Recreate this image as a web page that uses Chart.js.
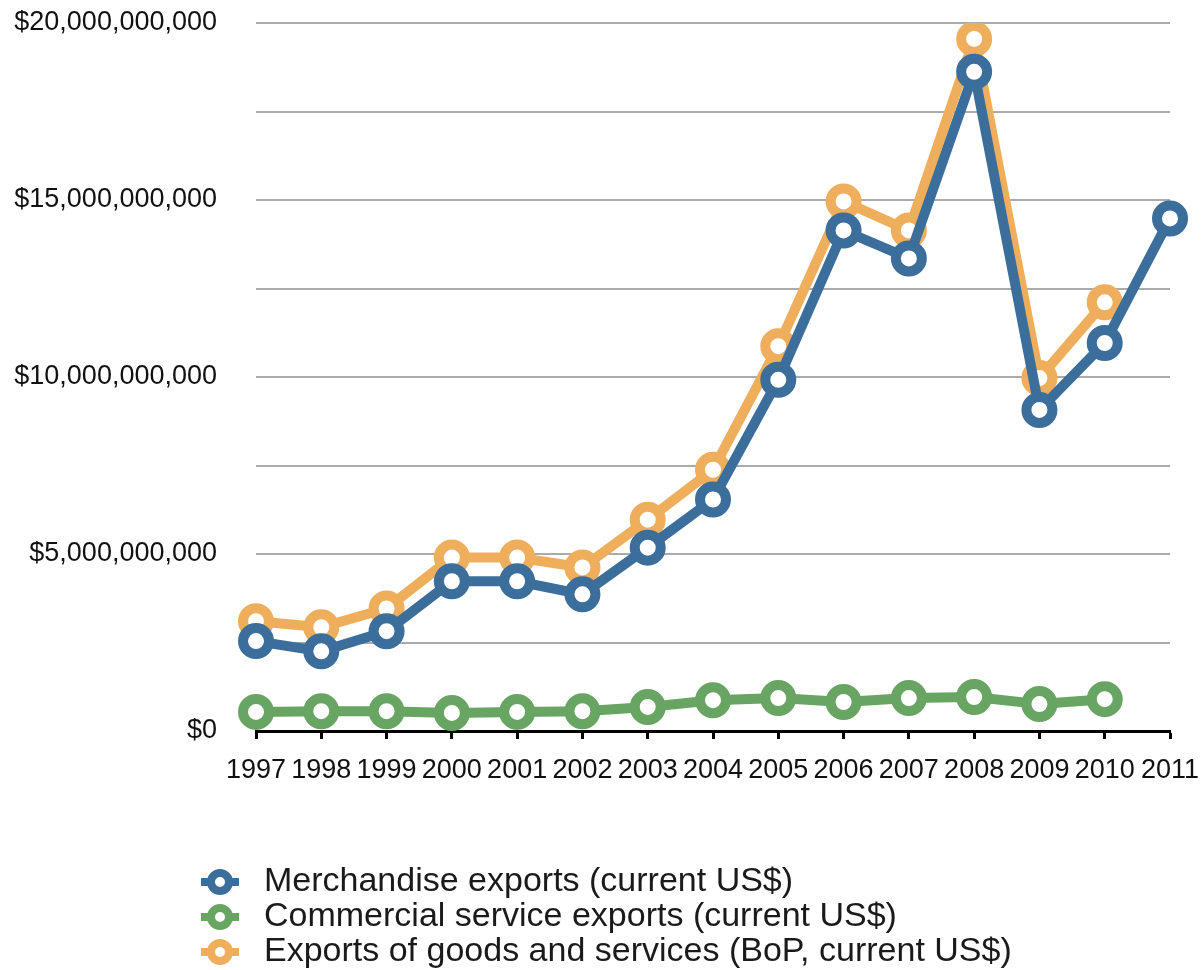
<!DOCTYPE html>
<html>
<head>
<meta charset="utf-8">
<script src="https://cdn.jsdelivr.net/npm/chart.js@4/dist/chart.umd.min.js"></script>
<style>
  html, body { margin: 0; padding: 0; background: #fff; }
  #wrap { width: 1202px; height: 970px; }
</style>
</head>
<body>
<div id="wrap"><canvas id="exportsChart"></canvas></div>
<script>
const years = ["1997", "1998", "1999", "2000", "2001", "2002", "2003", "2004",
  "2005", "2006", "2007", "2008", "2009", "2010", "2011"];

// values in US$
const merchandise = [2.54e9, 2.25e9, 2.82e9, 4.23e9, 4.23e9, 3.86e9, 5.18e9, 6.54e9,
  9.92e9, 14.14e9, 13.35e9, 18.62e9, 9.07e9, 10.96e9, 14.48e9];
const commercialServices = [0.54e9, 0.56e9, 0.56e9, 0.51e9, 0.54e9, 0.56e9, 0.68e9, 0.87e9,
  0.93e9, 0.82e9, 0.93e9, 0.96e9, 0.76e9, 0.90e9];
const goodsAndServices = [3.10e9, 2.93e9, 3.46e9, 4.90e9, 4.90e9, 4.62e9, 5.97e9, 7.38e9,
  10.87e9, 14.96e9, 14.14e9, 19.55e9, 9.97e9, 12.11e9];

const seriesLabels = [
  "Merchandise exports (current US$)",
  "Commercial service exports (current US$)",
  "Exports of goods and services (BoP, current US$)",
];
const seriesColors = ["#3b6e9b", "#68a562", "#efae5b"];

const yTickStep = 2.5e9;
const yLabelStep = 5e9;

const FONT = "'Liberation Sans', Arial, Helvetica, sans-serif";

// little ring with stubs, like the original legend marks
function legendIcon(color) {
  const c = document.createElement("canvas");
  c.width = 38;
  c.height = 28;
  const g = c.getContext("2d");
  g.strokeStyle = color;
  g.lineWidth = 8;
  g.beginPath();
  g.moveTo(0, 14);
  g.lineTo(38, 14);
  g.stroke();
  g.fillStyle = "#fff";
  g.beginPath();
  g.arc(19, 14, 9, 0, Math.PI * 2);
  g.fill();
  g.stroke();
  return c;
}
const icons = seriesColors.map(legendIcon);

function lineSet(label, data, color) {
  return {
    label: label,
    data: data,
    borderColor: color,
    backgroundColor: color,
    borderWidth: 10,
    pointRadius: 13,
    pointHoverRadius: 13,
    pointBorderWidth: 10,
    pointBackgroundColor: "#fff",
    pointBorderColor: color,
    tension: 0,
  };
}

// legend sits left-aligned under the y labels, not under the plot area
const legendPlace = {
  id: "legendPlace",
  afterLayout(chart) {
    const lg = chart.legend;
    const w = lg.width;
    const h = lg.height;
    lg.left = chart.chartArea.left - 64;
    lg.right = lg.left + w;
    lg.top = 864;
    lg.bottom = lg.top + h;
  },
};

const ctx = document.getElementById("exportsChart");
new Chart(ctx, {
  type: "line",
  data: {
    labels: years,
    datasets: [
      lineSet(seriesLabels[0], merchandise, seriesColors[0]),
      lineSet(seriesLabels[1], commercialServices, seriesColors[1]),
      lineSet(seriesLabels[2], goodsAndServices, seriesColors[2]),
    ],
  },
  options: {
    responsive: true,
    maintainAspectRatio: false,
    animation: false,
    layout: { padding: 0 },
    plugins: {
      tooltip: { enabled: false },
      legend: {
        position: "bottom",
        align: "start",
        fullSize: false,
        labels: {
          usePointStyle: true,
          pointStyleWidth: 54,
          boxHeight: 14,
          padding: 1,
          color: "#1a1a1a",
          font: { family: FONT, size: 34 },
          generateLabels(chart) {
            const items = Chart.defaults.plugins.legend.labels.generateLabels(chart);
            items.forEach((it) => { it.pointStyle = icons[it.datasetIndex]; });
            return items;
          },
        },
      },
    },
    scales: {
      x: {
        offset: false,
        afterFit(scale) {
          scale.height = 124;
          scale.paddingRight = 32;
        },
        border: { display: true, color: "#000", width: 3 },
        grid: {
          drawOnChartArea: false,
          drawTicks: true,
          tickLength: 8,
          tickColor: "#000",
          tickWidth: 3,
        },
        ticks: {
          autoSkip: false,
          maxRotation: 0,
          padding: 15,
          color: "#111",
          font: { family: FONT, size: 27 },
        },
      },
      y: {
        min: 0,
        max: 20e9,
        afterFit(scale) {
          scale.width = 256;
          scale.paddingTop = 21;
        },
        border: { display: false },
        grid: { color: "#ababab", lineWidth: 2, drawTicks: false },
        ticks: {
          stepSize: yTickStep,
          padding: 39,
          color: "#111",
          font: { family: FONT, size: 27 },
          callback(value) {
            if (value % yLabelStep !== 0) return "";
            return "$" + value.toLocaleString("en-US");
          },
        },
      },
    },
  },
  plugins: [legendPlace],
});
</script>
</body>
</html>
